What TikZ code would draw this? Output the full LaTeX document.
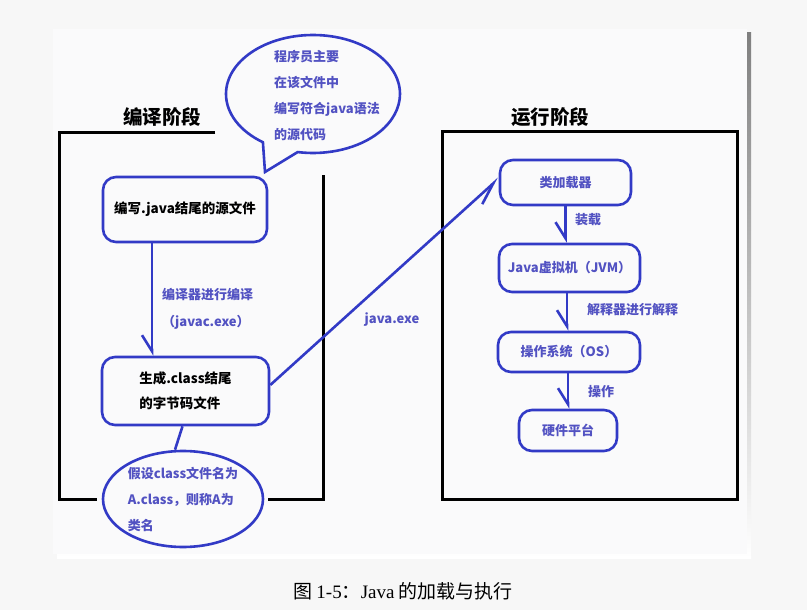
\documentclass[tikz,border=0pt]{standalone}
\usepackage{fontspec}
\setmainfont{Noto Sans CJK SC}
\newfontfamily\capfont{Liberation Serif}
\usepackage{tikz}
\usetikzlibrary{arrows.meta}
\usetikzlibrary{shapes.geometric}
\usetikzlibrary{shapes.callouts}
\definecolor{penblue}{RGB}{50,58,198}
\definecolor{inkblue}{RGB}{82,82,194}
\definecolor{paper}{RGB}{250,250,251}
\definecolor{outside}{RGB}{247,247,247}
\definecolor{shade}{RGB}{190,190,190}

\begin{document}
\begin{tikzpicture}[x=1pt, y=-1pt, font=\fontsize{13}{26}\selectfont]

\tikzstyle{stageframe} = [draw=black, line width=3pt]
\tikzstyle{stagetitle} = [inner sep=0pt, font=\fontsize{19.5}{20}\selectfont\bfseries]
\tikzstyle{filebox} = [draw=penblue, line width=2.6pt, rounded corners=13pt, fill=paper, inner sep=0pt, align=left, font=\fontsize{13.5}{25}\selectfont\bfseries]
\tikzstyle{runbox} = [filebox, text=inkblue, font=\fontsize{13}{25}\selectfont\bfseries]
\tikzstyle{notebox} = [draw=penblue, line width=2.6pt, fill=paper, inner sep=0pt, align=left, text=inkblue, font=\fontsize{13}{26}\selectfont\bfseries]
\tikzstyle{labeltext} = [text=inkblue, inner sep=0pt, align=left, font=\fontsize{13}{27}\selectfont\bfseries]
\tikzstyle{loadarrow} = [draw=penblue, line width=2.6pt, -{Straight Barb[harpoon, swap, length=16pt, width=20pt]}]

% page and panel
\useasboundingbox (0,0) rectangle (807,610);
\fill[outside] (0,0) rectangle (807,610);
\fill[shade] (57,33) rectangle (751,558);
\fill[paper] (53,29) rectangle (747,554);

% the two stages
\draw[stageframe] (215,133) -- (59,133) -- (59,499) -- (97,499);
\draw[stageframe] (268,499) -- (323,499) -- (323,175);
\draw[stageframe] (442,132) rectangle (737,499);
\node[stagetitle] (t1) at (162,117) {编译阶段};
\node[stagetitle] (t2) at (550,117) {运行阶段};

% compile side
\node[filebox, minimum width=164pt, minimum height=65pt] (1) at (185,209.5) {编写.java结尾的源文件};
\node[filebox, minimum width=167pt, minimum height=68pt] (2) at (185.5,391) {生成.class结尾\\的字节码文件};
\node[notebox, ellipse, minimum width=160pt, minimum height=96pt] (3) at (183,499) {假设class文件名为\\A.class，则称A为\\类名};
\node[notebox, ellipse callout, callout absolute pointer={(265,172)}, callout pointer arc=25, minimum width=174pt, minimum height=118pt] (4) at (313,94) {};
\node[labeltext, anchor=west, font=\fontsize{13}{26}\selectfont\bfseries] (5) at (274,96) {程序员主要\\在该文件中\\编写符合java语法\\的源代码};

% run side
\node[runbox, minimum width=131pt, minimum height=45pt] (6) at (565.5,182.5) {类加载器};
\node[runbox, minimum width=141pt, minimum height=48pt] (7) at (569.5,268) {Java虚拟机（JVM）};
\node[runbox, minimum width=142pt, minimum height=40pt] (8) at (569,352) {操作系统（OS）};
\node[runbox, minimum width=98pt, minimum height=41pt] (9) at (568,430.5) {硬件平台};

% labels
\node[labeltext, anchor=west] (10) at (162,308.5) {编译器进行编译\\（javac.exe）};
\node[labeltext] (11) at (392,320) {java.exe};
\node[labeltext] (12) at (588,220) {装载};
\node[labeltext, anchor=west] (13) at (587,310) {解释器进行解释};
\node[labeltext] (14) at (601,392) {操作};

\path
  ([xshift=-33pt]1.south) edge[loadarrow] ([xshift=-33pt]1.south |- 2.north)
  ([yshift=6pt]2.east) edge[loadarrow, -{Straight Barb[harpoon, swap, length=22pt, width=16pt]}] ([yshift=4pt]6.west)
  (6.south) edge[loadarrow] (6.south |- 7.north)
  ([xshift=-2.5pt]7.south) edge[loadarrow] ([xshift=-2.5pt]7.south |- 8.north)
  ([xshift=-1pt]8.south) edge[loadarrow] ([xshift=-1pt]8.south |- 9.north);
\draw[draw=penblue, line width=2.6pt] ([xshift=-3pt]2.south) -- ([xshift=-8pt]3.north);

% caption
\node (15) at (403,591) {\fontsize{19}{19}\selectfont 图 {\capfont 1-5}：{\capfont Java} 的加载与执行};
\end{tikzpicture}
\end{document}
